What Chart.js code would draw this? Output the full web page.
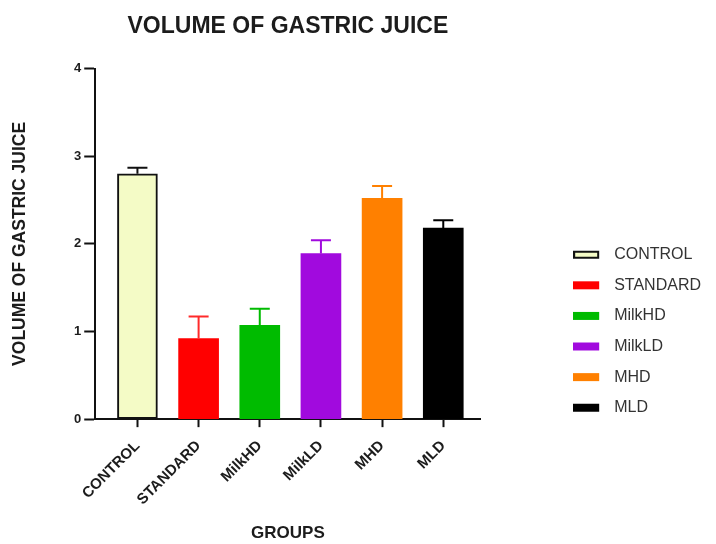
<!DOCTYPE html>
<html>
<head>
<meta charset="utf-8">
<title>Volume of gastric juice</title>
<script src="https://cdn.jsdelivr.net/npm/chart.js@4.4.1/dist/chart.umd.min.js"></script>
<style>
  html, body { margin: 0; padding: 0; background: #ffffff; }
  #wrap { width: 716px; height: 544px; position: relative; }
</style>
</head>
<body>
<div id="wrap"><canvas id="chart" width="716" height="544"></canvas></div>
<script>
// Group names, mean volumes and upper error (SEM) per group
const categories = ['CONTROL', 'STANDARD', 'MilkHD', 'MilkLD', 'MHD', 'MLD'];
const volumes = [2.80, 0.92, 1.07, 1.89, 2.52, 2.18];
const errors = [0.07, 0.25, 0.19, 0.15, 0.14, 0.09];
const yTicks = [0, 1, 2, 3, 4];

// Styling per group
const fills = ['#f4fbc6', '#ff0000', '#00bb00', '#a10ade', '#ff8000', '#000000'];
const borders = ['#111111', '#ff0000', '#00bb00', '#a10ade', '#ff8000', '#000000'];
const borderWidths = [2, 0, 0, 0, 0, 0];
const errColors = ['#111111', '#ff2a2a', '#00bb00', '#a10ade', '#ff8000', '#000000'];

const FONT = '"Liberation Sans", Arial, Helvetica, sans-serif';
const INK = '#1c1c1c';

// Legend swatch: a flat bar with empty space after it so the label sits further right
function swatch(fill, stroke) {
  const c = document.createElement('canvas');
  c.width = 33; c.height = 10;
  const g = c.getContext('2d');
  g.fillStyle = fill;
  g.fillRect(0, 1, 26, 8);
  if (stroke) {
    g.strokeStyle = stroke;
    g.lineWidth = 2;
    g.strokeRect(1, 2, 24, 6);
  }
  return c;
}
const swatches = categories.map((_, i) => swatch(fills[i], borderWidths[i] ? borders[i] : null));

// Upper error whiskers with a cap
const errorBars = {
  id: 'errorBars',
  afterDatasetsDraw(chart) {
    const ctx = chart.ctx;
    const yScale = chart.scales.y;
    ctx.save();
    ctx.lineWidth = 2;
    chart.data.datasets.forEach((ds, i) => {
      const meta = chart.getDatasetMeta(i);
      const bar = meta.data[0];
      if (!bar) return;
      const yTop = yScale.getPixelForValue(volumes[i] + errors[i]);
      ctx.strokeStyle = errColors[i];
      ctx.beginPath();
      ctx.moveTo(bar.x, bar.y);
      ctx.lineTo(bar.x, yTop);
      ctx.moveTo(bar.x - 10, yTop);
      ctx.lineTo(bar.x + 10, yTop);
      ctx.stroke();
    });
    ctx.restore();
  }
};

const datasets = categories.map((name, i) => ({
  label: name,
  data: [{ x: i, y: volumes[i] }],
  backgroundColor: fills[i],
  borderColor: borders[i],
  borderWidth: borderWidths[i],
  borderSkipped: false,
  barThickness: 40,
  grouped: false
}));

new Chart(document.getElementById('chart'), {
  type: 'bar',
  data: { datasets },
  plugins: [errorBars],
  options: {
    responsive: false,
    animation: false,
    devicePixelRatio: 1,
    layout: { padding: { left: 8, right: 5, top: 0, bottom: 0 } },
    plugins: {
      title: {
        display: true,
        text: 'VOLUME OF GASTRIC JUICE',
        fullSize: false,
        color: INK,
        font: { family: FONT, size: 23, weight: 'bold' },
        padding: { top: 13, bottom: 28 }
      },
      legend: {
        position: 'right',
        align: 'center',
        maxWidth: 300,
        title: { display: true, text: ' ', font: { size: 12 }, padding: { top: 104, bottom: 0 } },
        labels: {
          usePointStyle: true,
          pointStyleWidth: 33,
          padding: 14.6,
          color: '#333333',
          font: { family: FONT, size: 16 },
          generateLabels(chart) {
            return Chart.defaults.plugins.legend.labels.generateLabels(chart)
              .map((item, i) => Object.assign(item, { pointStyle: swatches[i] }));
          }
        }
      },
      tooltip: { enabled: false }
    },
    scales: {
      x: {
        type: 'linear',
        min: -0.69,
        max: 5.61,
        offset: false,
        afterBuildTicks(scale) {
          scale.ticks = categories.map((_, i) => ({ value: i }));
        },
        ticks: {
          autoSkip: false,
          includeBounds: false,
          maxRotation: 45,
          minRotation: 45,
          padding: 10,
          color: INK,
          font: { family: FONT, size: 15, weight: 'bold' },
          callback: (v) => categories[v]
        },
        grid: { offset: false, drawOnChartArea: false, tickLength: 8, tickWidth: 2, tickColor: '#111111' },
        border: { display: true, color: '#111111', width: 2 },
        title: {
          display: true,
          text: 'GROUPS',
          color: INK,
          font: { family: FONT, size: 17, weight: 'bold' },
          padding: { top: 5, bottom: 0 }
        }
      },
      y: {
        type: 'linear',
        min: 0,
        max: 4,
        afterBuildTicks(scale) {
          scale.ticks = yTicks.map(v => ({ value: v }));
        },
        ticks: {
          padding: 3,
          color: INK,
          font: { family: FONT, size: 13, weight: 'bold' }
        },
        grid: { drawOnChartArea: false, tickLength: 11, tickWidth: 2, tickColor: '#111111' },
        border: { display: true, color: '#111111', width: 2 },
        title: {
          display: true,
          text: 'VOLUME OF GASTRIC JUICE',
          color: INK,
          font: { family: FONT, size: 17.5, weight: 'bold' },
          padding: { top: 2, bottom: 40 }
        }
      },
      gap: {
        type: 'linear',
        position: 'right',
        display: true,
        grid: { display: false },
        border: { display: false },
        ticks: { display: false },
        afterFit(scale) { scale.width = 78; }
      }
    }
  }
});
</script>
</body>
</html>
